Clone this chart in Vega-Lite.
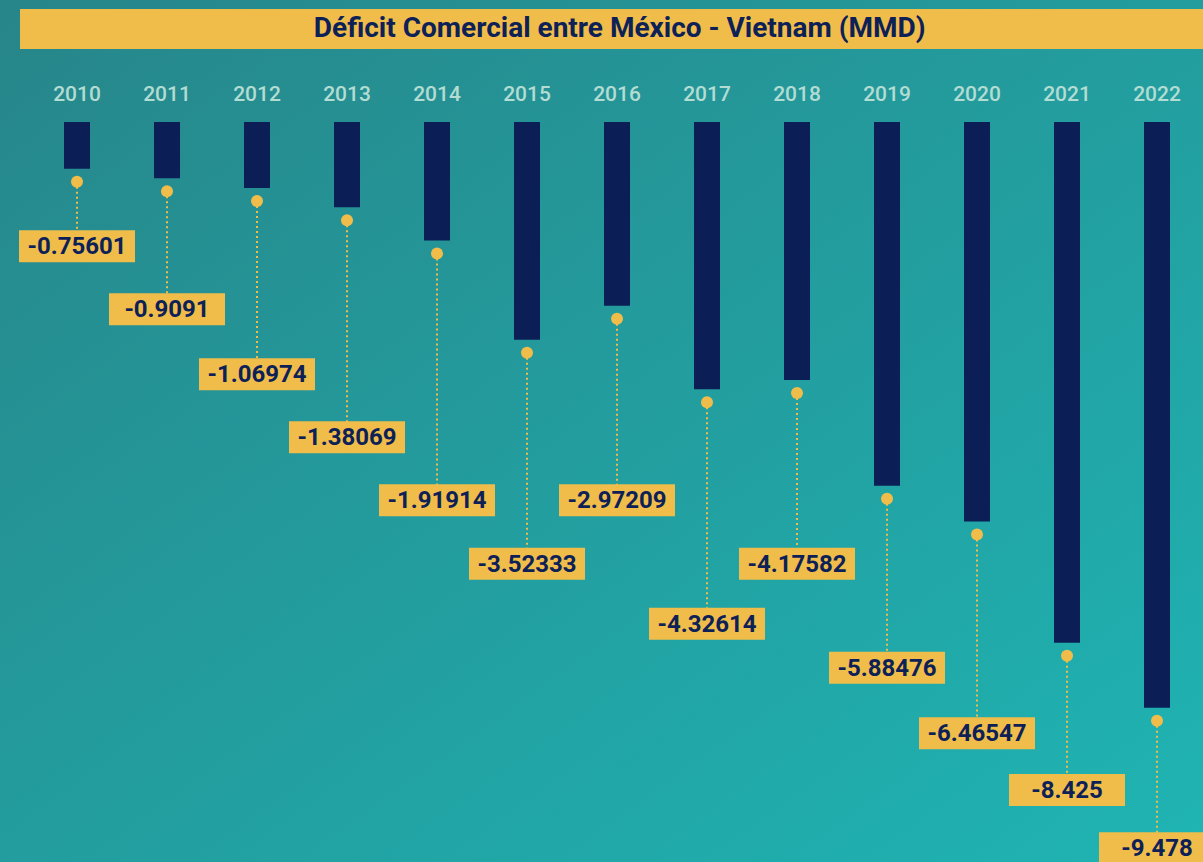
{
  "$schema": "https://vega.github.io/schema/vega-lite/v6.json",
  "width": 1203,
  "height": 862,
  "padding": 0,
  "autosize": {"type": "none"},
  "background": "#2496a0",
  "config": {"view": {"stroke": null}},
  "datasets": {
    "deficit": [
      {"year": 2010, "value": -0.75601, "labelPos": -2.01},
      {"year": 2011, "value": -0.9091, "labelPos": -3.03},
      {"year": 2012, "value": -1.06974, "labelPos": -4.08},
      {"year": 2013, "value": -1.38069, "labelPos": -5.10},
      {"year": 2014, "value": -1.91914, "labelPos": -6.12},
      {"year": 2015, "value": -3.52333, "labelPos": -7.15},
      {"year": 2016, "value": -2.97209, "labelPos": -6.12},
      {"year": 2017, "value": -4.32614, "labelPos": -8.12},
      {"year": 2018, "value": -4.17582, "labelPos": -7.15},
      {"year": 2019, "value": -5.88476, "labelPos": -8.83},
      {"year": 2020, "value": -6.46547, "labelPos": -9.89},
      {"year": 2021, "value": -8.425, "labelPos": -10.81},
      {"year": 2022, "value": -9.478, "labelPos": -11.75}
    ],
    "header": [
      {"title": "Déficit Comercial entre México - Vietnam (MMD)"}
    ]
  },
  "layer": [
    {
      "data": {"name": "header"},
      "mark": {
        "type": "rect",
        "fill": {
          "gradient": "linear",
          "x1": 0, "y1": 0, "x2": 1, "y2": 1,
          "stops": [
            {"offset": 0, "color": "#278589"},
            {"offset": 1, "color": "#1fb5b4"}
          ]
        }
      },
      "encoding": {
        "x": {"datum": 2009.0, "type": "quantitative", "scale": {"domain": [2009.1444, 2022.5111], "nice": false, "zero": false, "padding": 0}, "axis": null},
        "x2": {"datum": 2022.7},
        "y": {"datum": 2.1, "type": "quantitative", "scale": {"domain": [-11.974, 1.974], "nice": false, "zero": false, "padding": 0}, "axis": null},
        "y2": {"datum": -12.2}
      }
    },
    {
      "data": {"name": "header"},
      "mark": {"type": "rect", "fill": "#f0bd4b"},
      "encoding": {
        "x": {"datum": 2009.3667, "type": "quantitative"},
        "x2": {"datum": 2022.7},
        "y": {"datum": 1.828, "type": "quantitative"},
        "y2": {"datum": 1.181}
      }
    },
    {
      "data": {"name": "header"},
      "mark": {"type": "text", "font": "Roboto", "fontSize": 28, "fontWeight": "bold", "color": "#0d2157", "baseline": "middle", "align": "center"},
      "encoding": {
        "x": {"datum": 2016.03, "type": "quantitative"},
        "y": {"datum": 1.50, "type": "quantitative"},
        "text": {"field": "title", "type": "nominal"}
      }
    },
    {
      "data": {"name": "deficit"},
      "mark": {"type": "text", "font": "Roboto", "fontSize": 21, "fontWeight": 500, "color": "#b3dcd3", "baseline": "middle", "align": "center"},
      "encoding": {
        "x": {"field": "year", "type": "quantitative"},
        "y": {"datum": 0.437, "type": "quantitative"},
        "text": {"field": "year", "type": "nominal"}
      }
    },
    {
      "data": {"name": "deficit"},
      "mark": {"type": "bar", "width": 26, "color": "#0b1f56"},
      "encoding": {
        "x": {"field": "year", "type": "quantitative"},
        "y": {"field": "value", "type": "quantitative"},
        "y2": {"datum": 0}
      }
    },
    {
      "data": {"name": "deficit"},
      "mark": {"type": "rule", "color": "#f0bd4b", "strokeWidth": 2, "strokeDash": [2, 3], "yOffset": 13},
      "encoding": {
        "x": {"field": "year", "type": "quantitative"},
        "y": {"field": "value", "type": "quantitative"},
        "y2": {"field": "labelPos"}
      }
    },
    {
      "data": {"name": "deficit"},
      "mark": {"type": "point", "shape": "circle", "filled": true, "opacity": 1, "size": 144, "color": "#f0bd4b", "yOffset": 13},
      "encoding": {
        "x": {"field": "year", "type": "quantitative"},
        "y": {"field": "value", "type": "quantitative"}
      }
    },
    {
      "data": {"name": "deficit"},
      "mark": {"type": "tick", "orient": "horizontal", "size": 116, "thickness": 32, "color": "#f0bd4b", "opacity": 1},
      "encoding": {
        "x": {"field": "year", "type": "quantitative"},
        "y": {"field": "labelPos", "type": "quantitative"}
      }
    },
    {
      "data": {"name": "deficit"},
      "mark": {"type": "text", "font": "Roboto", "fontSize": 24, "fontWeight": "bold", "color": "#0d2157", "baseline": "middle", "align": "center", "dy": 1},
      "encoding": {
        "x": {"field": "year", "type": "quantitative"},
        "y": {"field": "labelPos", "type": "quantitative"},
        "text": {"field": "value", "type": "nominal"}
      }
    }
  ]
}
